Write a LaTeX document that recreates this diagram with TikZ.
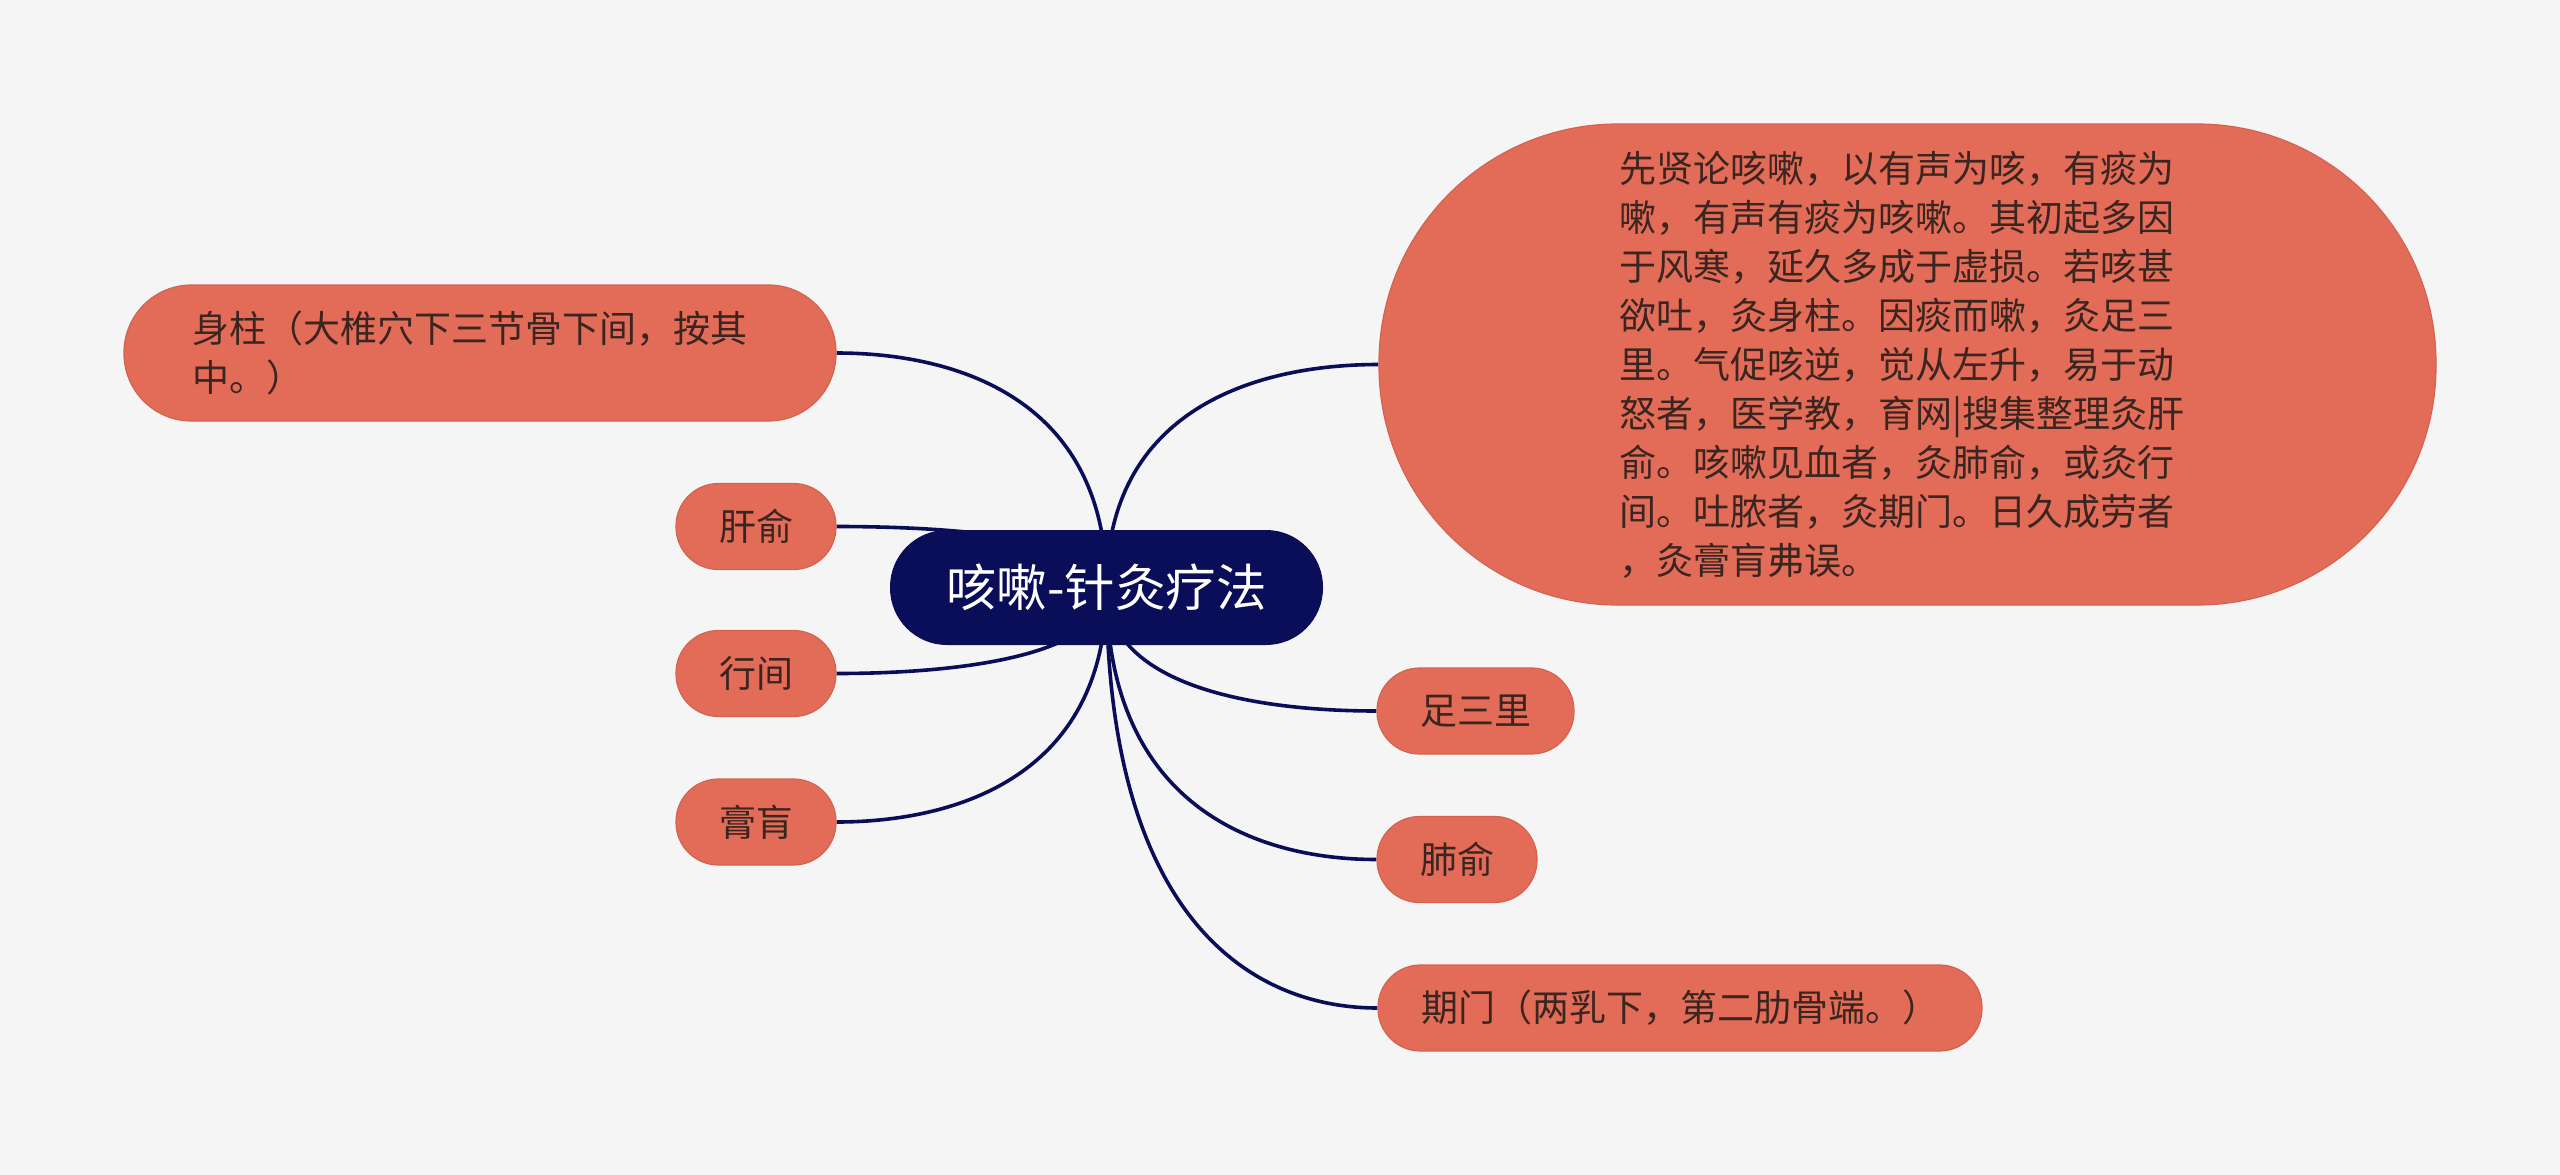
\documentclass[tikz,border=0pt]{standalone}
\usepackage{fontspec}
\setmainfont{Noto Sans CJK SC}
\usetikzlibrary{calc}
\definecolor{bgc}{HTML}{F5F5F5}
\definecolor{leaf}{HTML}{E36C58}
\definecolor{leafline}{HTML}{D46250}
\definecolor{navy}{HTML}{0A0D58}
\definecolor{txt}{HTML}{3B2520}
\pgfdeclarelayer{back}
\pgfdeclarelayer{links}
\pgfsetlayers{back,links,main}
\begin{document}
\begin{tikzpicture}[x=1pt,y=-1pt,
  leafbox/.style={draw=leafline,line width=1.2pt,fill=leaf,text=txt,inner sep=0pt,
    font=\fontsize{37}{49}\selectfont,rounded corners=42.5pt,minimum height=86pt},
  corebox/.style={fill=navy,text=white,inner sep=0pt,font=\fontsize{50.5}{58}\selectfont,
    rounded corners=57pt,minimum width=433pt,minimum height=115pt},
  link/.style={draw=navy,line width=3.6pt}]
\begin{pgfonlayer}{back}
  \fill[bgc] (0,0) rectangle (2560,1175);
\end{pgfonlayer}
\useasboundingbox (0,0) rectangle (2560,1175);

\node[corebox] (core) at (1106.5,587.5) {咳嗽-针灸疗法};

\node[leafbox,rounded corners=67.5pt,minimum width=712pt,minimum height=136pt,text width=575pt,align=left]
  (shenzhu) at (480,353) {身柱（大椎穴下三节骨下间，按其\\中。）};
\node[leafbox,minimum width=160pt] (ganshu) at (756,526.5) {肝俞};
\node[leafbox,minimum width=160pt] (xingjian) at (756,673.5) {行间};
\node[leafbox,minimum width=160pt] (gaohuang) at (756,822) {膏肓};

\node[leafbox,rounded corners=239pt,minimum width=1057pt,minimum height=481pt,text width=577pt,align=left]
  (big) at (1907.5,364.5) {先贤论咳嗽，以有声为咳，有痰为\\嗽，有声有痰为咳嗽。其初起多因\\于风寒，延久多成于虚损。若咳甚\\欲吐，灸身柱。因痰而嗽，灸足三\\里。气促咳逆，觉从左升，易于动\\怒者，医学教，育网|搜集整理灸肝\\俞。咳嗽见血者，灸肺俞，或灸行\\间。吐脓者，灸期门。日久成劳者\\，灸膏肓弗误。};
\node[leafbox,minimum width=197pt] (zusanli) at (1475.5,711) {足三里};
\node[leafbox,minimum width=160pt] (feishu) at (1457,859.5) {肺俞};
\node[leafbox,minimum width=604pt] (qimen) at (1680,1008) {期门（两乳下，第二肋骨端。）};

\begin{pgfonlayer}{links}
\foreach \n in {shenzhu,ganshu,xingjian,gaohuang}{
  \draw[link] (\n.east) .. controls ($(\n.east)!0.45!(\n.east -| core.center)$)
    and ($(core.center)!0.8!(core.center |- \n.east)$) .. (core.center);
}
\foreach \n in {big,zusanli,feishu,qimen}{
  \draw[link] (\n.west) .. controls ($(\n.west)!0.45!(\n.west -| core.center)$)
    and ($(core.center)!0.8!(core.center |- \n.west)$) .. (core.center);
}
\end{pgfonlayer}
\end{tikzpicture}
\end{document}
